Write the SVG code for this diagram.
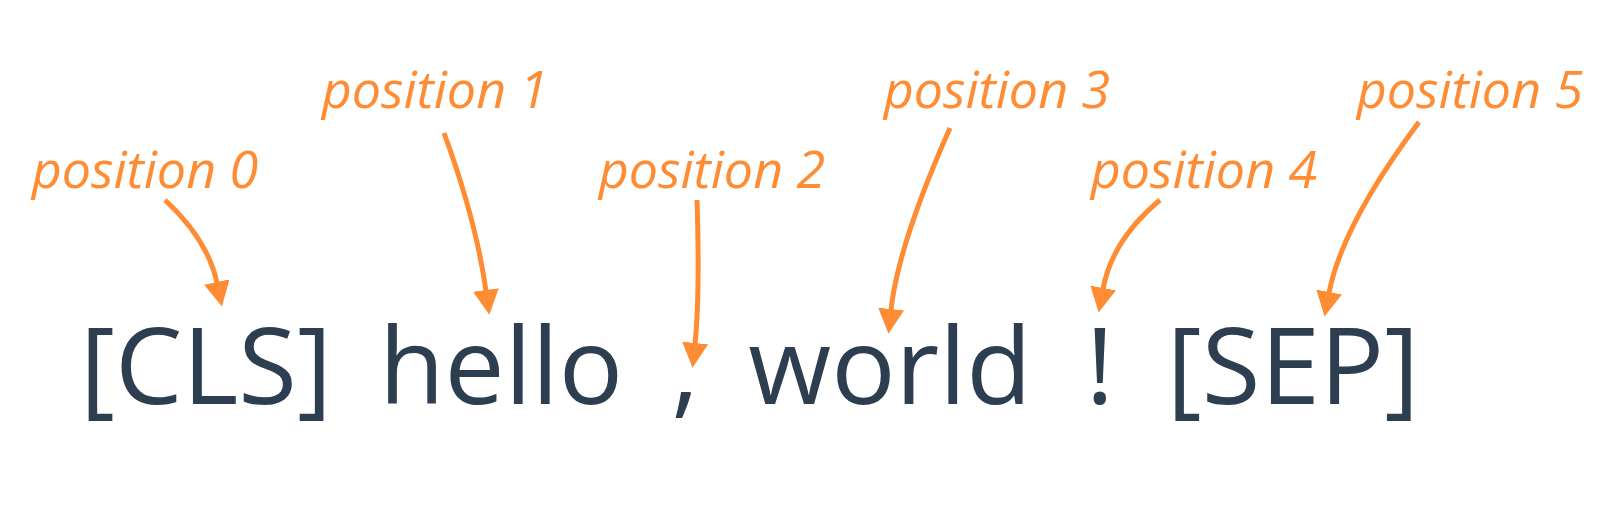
<svg xmlns="http://www.w3.org/2000/svg" width="1600" height="523" viewBox="0 0 1600 523">
<style>
.tok{font-family:"Open Sans","Noto Sans",sans-serif;font-size:107px;fill:#2c3e50;text-anchor:middle}
.lbl{font-family:"Open Sans","Noto Sans",sans-serif;font-size:52px;font-style:italic;fill:#ff8c33;text-anchor:middle}
.arr{fill:none;stroke:#ff8c33;stroke-width:5;marker-end:url(#ah)}
</style>
<defs>
<marker id="ah" viewBox="0 0 25 26" refX="1" refY="13" markerWidth="25" markerHeight="26" markerUnits="userSpaceOnUse" orient="auto">
<path d="M0,0 L25,13 L0,26 z" fill="#ff8c33"/>
</marker>
</defs>
<rect width="1600" height="523" fill="#ffffff"/>
<g id="connectors">
<path class="arr" d="M165,200 Q208,240 217,283"/>
<path class="arr" d="M444,133 Q476,220 486,291"/>
<path class="arr" d="M697,200 Q700,296 695,344"/>
<path class="arr" d="M950,128 Q898,245 891,310"/>
<path class="arr" d="M1160,200 Q1112,240 1103,289"/>
<path class="arr" d="M1419,122 Q1342,225 1329,293"/>
</g>
<g id="label0"><text class="lbl" x="145" y="188">position 0</text></g>
<g id="label1"><text class="lbl" x="435" y="108">position 1</text></g>
<g id="label2"><text class="lbl" x="712" y="188">position 2</text></g>
<g id="label3"><text class="lbl" x="997" y="108">position 3</text></g>
<g id="label4"><text class="lbl" x="1204" y="188">position 4</text></g>
<g id="label5"><text class="lbl" x="1470" y="108">position 5</text></g>
<g id="tok-cls"><text class="tok" x="206" y="404">[CLS]</text></g>
<g id="tok-hello"><text class="tok" x="501" y="404">hello</text></g>
<g id="tok-comma"><text class="tok" x="685" y="404">,</text></g>
<g id="tok-world"><text class="tok" x="890" y="404">world</text></g>
<g id="tok-excl"><text class="tok" x="1100" y="404">!</text></g>
<g id="tok-sep"><text class="tok" x="1293" y="404">[SEP]</text></g>
</svg>
